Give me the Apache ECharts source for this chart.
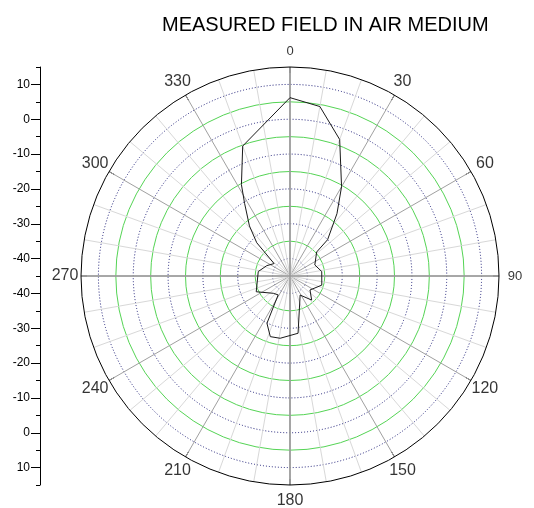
<!DOCTYPE html>
<html><head><meta charset="utf-8">
<script src="https://cdn.jsdelivr.net/npm/echarts@6/dist/echarts.min.js"></script>
<style>html,body{margin:0;padding:0;background:#fff}#c{width:534px;height:508px}</style>
</head><body><div id="c"></div>
<script>
// ---- data ----
const patternAngles = [0, 10, 20, 30, 37, 46, 48, 66, 82, 106, 125, 138, 152, 172, 189, 198, 206, 212, 224, 245, 278, 294, 308, 315, 321, 328, 332, 340, 360];
const patternValues = [6.2, 4.4, -3.3, -15.4, -22.6, -30, -34.7, -37.2, -35.8, -35.5, -38, -35.7, -38.8, -28.4, -26.9, -26.7, -29.9, -38.6, -38.1, -34.3, -35.8, -37.7, -39.2, -31.5, -26.5, -20.4, -15.3, -5.3, 6.2];
const angleTickValues = [0, 30, 60, 90, 120, 150, 180, 210, 240, 270, 300, 330];
const angleTickLabels = ['0', '30', '60', '90', '120', '150', '180', '210', '240', '270', '300', '330'];
// left scale, top to bottom
const leftTickLabels = ['', '10', '', '0', '', '-10', '', '-20', '', '-30', '', '-40', '', '-40', '', '-30', '', '-20', '', '-10', '', '0', '', '10', ''];
const radiusMin = -45, radiusMax = 15, radiusStep = 5;

// ---- layout / style ----
const CX = 290, CY = 276, R = 209;
const labelRadiusValue = 19.6;
const smallLabels = ['0', '90'];
const nRings = (radiusMax - radiusMin) / radiusStep;
const dottedColors = [], solidColors = [];
for (let i = 0; i <= nRings; i++) {
  const inner = i > 0 && i < nRings;
  dottedColors.push(inner && i % 2 === 1 ? '#1e1e78' : 'rgba(0,0,0,0)');
  solidColors.push(inner && i % 2 === 0 ? '#55d455' : 'rgba(0,0,0,0)');
}
const leftBottomUp = leftTickLabels.slice().reverse();
const leftCats = leftBottomUp.map((_, i) => 'c' + i);

const chart = echarts.init(document.getElementById('c'));
chart.setOption({
  backgroundColor: '#fff',
  animation: false,
  title: {
    text: 'MEASURED FIELD IN AIR MEDIUM', left: 157, top: 10,
    textStyle: { fontSize: 20, fontWeight: 'normal', color: '#000', fontFamily: 'Liberation Sans' }
  },
  grid: { left: 40, top: 67, height: 418, width: 10 },
  xAxis: { type: 'value', show: false },
  yAxis: [{
    type: 'category', data: leftCats, boundaryGap: false, position: 'left',
    axisLine: { show: true, lineStyle: { color: '#000', width: 1 } },
    axisTick: { show: true, length: 4, interval: 0, lineStyle: { color: '#000' } },
    axisLabel: { show: false },
    splitLine: { show: false }
  }, {
    type: 'category', data: leftCats, boundaryGap: false, position: 'left',
    axisLine: { show: false },
    axisTick: { show: true, length: 9, interval: (i) => leftBottomUp[i] !== '', lineStyle: { color: '#000' } },
    axisLabel: { show: true, interval: 0, margin: 10, formatter: (v, i) => leftBottomUp[i],
      fontSize: 12, color: '#000', fontFamily: 'Liberation Sans' },
    splitLine: { show: false }
  }],
  polar: [
    { center: [CX, CY], radius: R },
    { center: [CX, CY], radius: R }
  ],
  angleAxis: [{
    polarIndex: 0, type: 'value', min: 0, max: 360, interval: 30, startAngle: 90, clockwise: true,
    axisLine: { show: true, lineStyle: { color: '#000', width: 1 } },
    axisTick: { show: true, inside: true, length: 6, lineStyle: { color: '#000' } },
    axisLabel: { show: false },
    splitLine: { show: true, lineStyle: { color: '#a0a0a0', width: 1 } },
    minorTick: { show: false, splitNumber: 3 },
    minorSplitLine: { show: true, lineStyle: { color: '#d8d8d8', width: 1 } }
  }, {
    polarIndex: 1, type: 'value', min: 0, max: 360, interval: 90, startAngle: 90, clockwise: true,
    axisLine: { show: false }, axisTick: { show: false }, axisLabel: { show: false },
    splitLine: { show: true, lineStyle: { color: '#9a9a9a', width: 1.6 } }
  }],
  radiusAxis: [{
    polarIndex: 0, type: 'value', min: radiusMin, max: radiusMax, interval: radiusStep,
    axisLine: { show: false }, axisTick: { show: false }, axisLabel: { show: false },
    splitLine: { show: true, lineStyle: { type: [1, 2], color: dottedColors, width: 1 } }
  }, {
    polarIndex: 1, type: 'value', min: radiusMin, max: radiusMax, interval: radiusStep,
    axisLine: { show: false }, axisTick: { show: false }, axisLabel: { show: false },
    splitLine: { show: true, lineStyle: { type: 'solid', color: solidColors, width: 1 } }
  }],
  series: [{
    type: 'line', coordinateSystem: 'polar', polarIndex: 1,
    data: patternAngles.map((a, i) => [patternValues[i], a]),
    symbol: 'none', smooth: false, clip: false,
    lineStyle: { color: '#1a1a1a', width: 1 }, z: 10
  }, {
    type: 'scatter', coordinateSystem: 'polar', polarIndex: 0, clip: false, silent: true,
    symbolSize: 1, itemStyle: { color: 'rgba(0,0,0,0)' },
    data: angleTickValues.map(a => [labelRadiusValue, a]),
    label: {
      show: true, position: 'inside', color: '#000', fontFamily: 'Liberation Sans',
      formatter: p => {
        const t = angleTickLabels[p.dataIndex];
        return smallLabels.includes(t) ? '{s|' + t + '}' : '{b|' + t + '}';
      },
      rich: {
        b: { fontSize: 16, color: '#000', fontFamily: 'Liberation Sans' },
        s: { fontSize: 13, color: '#000', fontFamily: 'Liberation Sans' }
      }
    }
  }]
});
</script></body></html>
